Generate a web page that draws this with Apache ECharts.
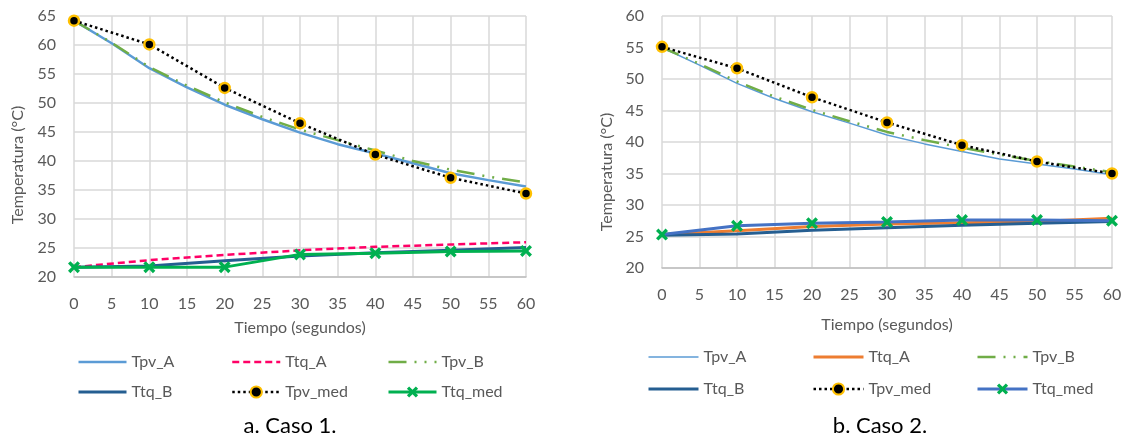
<!DOCTYPE html>
<html>
<head>
<meta charset="utf-8">
<script src="https://cdn.jsdelivr.net/npm/echarts@6/dist/echarts.min.js"></script>
<style>
  html, body { margin: 0; padding: 0; background: #fff; }
  #c1 { position: absolute; left: 0; top: 0; width: 562px; height: 439px; }
  #c2 { position: absolute; left: 562px; top: 0; width: 563px; height: 439px; }
</style>
</head>
<body>
<div id="c1"></div>
<div id="c2"></div>
<script>
// ---- Data ----
const seriesNames = ['Tpv_A', 'Ttq_A', 'Tpv_B', 'Ttq_B', 'Tpv_med', 'Ttq_med'];
const timeModel = [0, 5, 10, 15, 20, 25, 30, 35, 40, 45, 50, 55, 60];
const timeMeas = [0, 10, 20, 30, 40, 50, 60];
const xTicks = [0, 5, 10, 15, 20, 25, 30, 35, 40, 45, 50, 55, 60];

// Caso 1
const c1_TpvA = [64.2, 60.3, 56.0, 52.7, 49.7, 47.2, 44.9, 42.9, 41.3, 39.6, 37.9, 36.7, 35.6];
const c1_TpvB = [64.2, 60.4, 56.2, 53.0, 50.1, 47.6, 45.4, 43.6, 41.8, 40.0, 38.5, 37.3, 36.3];
const c1_TtqA = [21.7, 22.9, 23.8, 24.6, 25.2, 25.6, 26.0];
const c1_TtqB = [21.7, 21.9, 22.8, 23.6, 24.2, 24.6, 25.1];
const c1_TpvMed = [64.2, 60.1, 52.6, 46.5, 41.1, 37.1, 34.4];
const c1_TtqMed = [21.7, 21.7, 21.7, 23.9, 24.1, 24.4, 24.5];

// Caso 2
const c2_TpvA = [55.0, 52.2, 49.3, 46.9, 44.8, 43.0, 41.1, 39.7, 38.5, 37.3, 36.5, 35.7, 34.8];
const c2_TpvB = [55.0, 52.4, 49.6, 47.2, 45.1, 43.3, 41.6, 40.3, 39.1, 38.0, 37.0, 36.1, 35.2];
const c2_TtqA = [25.3, 25.9, 26.6, 27.0, 27.2, 27.4, 27.9];
const c2_TtqB = [25.2, 25.4, 26.0, 26.4, 26.8, 27.1, 27.4];
const c2_TpvMed = [55.1, 51.7, 47.1, 43.1, 39.5, 36.9, 35.0];
const c2_TtqMed = [25.3, 26.7, 27.1, 27.3, 27.6, 27.6, 27.5];

// ---- Helpers ----
const FONT = 'Lato, "Open Sans", sans-serif';
const GRAY = '#595959';
const X_SYMBOL = 'path://M2,0 L5,3 L8,0 L10,2 L7,5 L10,8 L8,10 L5,7 L2,10 L0,8 L3,5 L0,2 Z';
const pairs = (xs, ys) => xs.map((x, i) => [x, ys[i]]);

function buildOption(cfg) {
  const mk = (name, xs, ys, line, extra) => Object.assign({
    name: name, type: 'line', data: pairs(xs, ys),
    symbol: 'none', lineStyle: line, itemStyle: { color: line.color },
    animation: false, z: 2
  }, extra || {});
  const s = cfg.styles;
  const series = [
    mk('Tpv_A', timeModel, cfg.TpvA, s.TpvA),
    mk('Ttq_A', timeMeas, cfg.TtqA, s.TtqA),
    mk('Tpv_B', timeModel, cfg.TpvB, s.TpvB),
    mk('Ttq_B', timeMeas, cfg.TtqB, s.TtqB),
    mk('Tpv_med', timeMeas, cfg.TpvMed, { color: '#000', width: 2.5, type: [2.5, 3] }, {
      symbol: 'circle', symbolSize: 10,
      itemStyle: { color: '#000', borderColor: '#FFC000', borderWidth: 2.5 }
    }),
    mk('Ttq_med', timeMeas, cfg.TtqMed, s.TtqMed, {
      symbol: X_SYMBOL, symbolSize: 12,
      itemStyle: { color: '#00B050' }
    })
  ];
  const hide = { opacity: 0 };
  const legendCommon = {
    orient: 'vertical', itemWidth: cfg.legendIconW, itemHeight: 14, itemGap: cfg.legendGap,
    top: cfg.legendTop,
    textStyle: { fontFamily: FONT, fontSize: 16, color: GRAY },
    lineStyle: { width: 'inherit' },
    selectedMode: false
  };
  return {
    backgroundColor: '#fff',
    animation: false,
    title: {
      text: cfg.caption, left: cfg.captionX, top: 410, textAlign: 'center',
      textStyle: { fontFamily: FONT, fontSize: 22, fontWeight: 'normal', color: '#000' }
    },
    grid: cfg.grid,
    xAxis: {
      type: 'value', min: 0, max: 60, interval: 5,
      name: 'Tiempo (segundos)', nameLocation: 'middle', nameGap: cfg.xNameGap,
      nameTextStyle: { fontFamily: FONT, fontSize: 16, color: GRAY },
      axisLine: { show: true, lineStyle: { color: '#BFBFBF', width: 1.5 } },
      axisTick: { show: false },
      axisLabel: { fontFamily: FONT, fontSize: 16, color: GRAY, margin: cfg.xLabelMargin,
        formatter: v => xTicks.indexOf(v) >= 0 ? String(v) : '' },
      splitLine: { show: true, lineStyle: { color: '#D9D9D9', width: 1.5 } }
    },
    yAxis: {
      type: 'value', min: 20, max: cfg.yMax, interval: 5,
      name: 'Temperatura (°C)', nameLocation: 'middle', nameGap: cfg.yNameGap,
      nameTextStyle: { fontFamily: FONT, fontSize: 16, color: GRAY, padding: [0, cfg.yNamePad, 0, 0] },
      axisLine: { show: false },
      axisTick: { show: false },
      axisLabel: { fontFamily: FONT, fontSize: 16, color: GRAY, margin: 18 },
      splitLine: { show: true, lineStyle: { color: '#D9D9D9', width: 1.5 } }
    },
    legend: [
      Object.assign({}, legendCommon, { left: cfg.legendCols[0], data: [
        { name: 'Tpv_A', itemStyle: hide }, { name: 'Ttq_B', itemStyle: hide } ] }),
      Object.assign({}, legendCommon, { left: cfg.legendCols[1], data: [
        { name: 'Ttq_A', itemStyle: hide }, { name: 'Tpv_med' } ] }),
      Object.assign({}, legendCommon, { left: cfg.legendCols[2], data: [
        { name: 'Tpv_B', itemStyle: hide }, { name: 'Ttq_med' } ] })
    ],
    series: series
  };
}

const opt1 = buildOption({
  caption: 'a. Caso 1.', captionX: 285,
  grid: { left: 74, right: 36, top: 16, bottom: 162 },
  yMax: 65, xNameGap: 43, xLabelMargin: 19, yNameGap: 48, yNamePad: 37,
  legendTop: 349, legendGap: 14, legendIconW: 48, legendCols: [72, 226, 382],
  TpvA: c1_TpvA, TpvB: c1_TpvB, TtqA: c1_TtqA, TtqB: c1_TtqB, TpvMed: c1_TpvMed, TtqMed: c1_TtqMed,
  styles: {
    TpvA: { color: '#5B9BD5', width: 2.5 },
    TtqA: { color: '#FF0066', width: 2.5, type: [7, 4] },
    TpvB: { color: '#70AD47', width: 2.5, type: [18, 8, 2, 8, 2, 8] },
    TtqB: { color: '#255E91', width: 3 },
    TtqMed: { color: '#00B050', width: 3 }
  }
});

const opt2 = buildOption({
  caption: 'b. Caso 2.', captionX: 313,
  grid: { left: 100, right: 13, top: 16, bottom: 171 },
  yMax: 60, xNameGap: 49, xLabelMargin: 19, yNameGap: 41, yNamePad: 60,
  legendTop: 344, legendGap: 16, legendIconW: 50, legendCols: [80, 245, 409],
  TpvA: c2_TpvA, TpvB: c2_TpvB, TtqA: c2_TtqA, TtqB: c2_TtqB, TpvMed: c2_TpvMed, TtqMed: c2_TtqMed,
  styles: {
    TpvA: { color: '#5B9BD5', width: 1.5 },
    TtqA: { color: '#ED7D31', width: 3 },
    TpvB: { color: '#70AD47', width: 2.5, type: [18, 8, 2, 8, 2, 8] },
    TtqB: { color: '#255E91', width: 3 },
    TtqMed: { color: '#4472C4', width: 3 }
  }
});

echarts.init(document.getElementById('c1'), null, { renderer: 'canvas' }).setOption(opt1);
echarts.init(document.getElementById('c2'), null, { renderer: 'canvas' }).setOption(opt2);
</script>
</body>
</html>
